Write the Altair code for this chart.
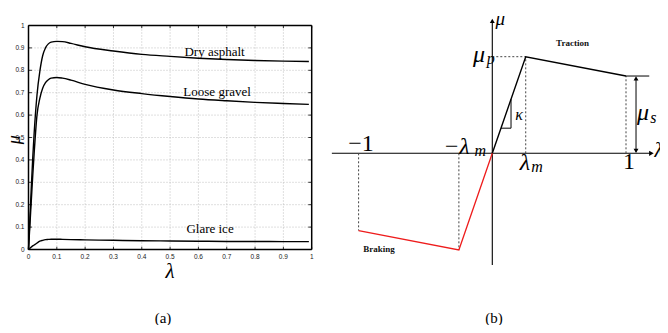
import altair as alt
import pandas as pd

# ---------------- data: panel (a) ----------------
lam_a = [0, 0.005, 0.01, 0.015, 0.02, 0.03, 0.04, 0.05, 0.06, 0.07, 0.08, 0.1,
         0.12, 0.15, 0.2, 0.3, 0.4, 0.5, 0.6, 0.7, 0.8, 0.9, 0.99]
dry_asphalt = [0, 0.14, 0.28, 0.41, 0.52, 0.69, 0.795, 0.865, 0.90, 0.918, 0.926, 0.929,
               0.928, 0.92, 0.905, 0.886, 0.871, 0.862, 0.854, 0.848, 0.844, 0.841, 0.839]
loose_gravel = [0, 0.11, 0.22, 0.33, 0.43, 0.60, 0.675, 0.72, 0.745, 0.758, 0.765, 0.768,
                0.765, 0.756, 0.737, 0.712, 0.696, 0.683, 0.672, 0.664, 0.657, 0.652, 0.648]
glare_ice = [0, 0.006, 0.011, 0.016, 0.02, 0.029, 0.037, 0.041, 0.044, 0.045, 0.046, 0.046,
             0.045, 0.044, 0.043, 0.041, 0.039, 0.038, 0.037, 0.036, 0.036, 0.035, 0.035]
surface_names = ["Dry asphalt", "Loose gravel", "Glare ice"]
ticks_a = [0, 0.1, 0.2, 0.3, 0.4, 0.5, 0.6, 0.7, 0.8, 0.9, 1]
tick_labels_a = ["0", "0.1", "0.2", "0.3", "0.4", "0.5", "0.6", "0.7", "0.8", "0.9", "1"]

# ---------------- data: panel (b) ----------------
lam_m = 0.25
mu_p = 1.0
mu_s = 0.8
traction_lam = [0, lam_m, 1]
traction_mu = [0, mu_p, mu_s]
braking_lam = [0, -lam_m, -1]
braking_mu = [0, -mu_p, -mu_s]

# ---------------- scales (pixel ranges inside the 652x317 view) ----------------
def XA(f):
    return alt.X(f, type="quantitative", axis=None,
                 scale=alt.Scale(domain=[0, 1], range=[20.5, 303.7], nice=False, zero=False))

def YA(f):
    return alt.Y(f, type="quantitative", axis=None,
                 scale=alt.Scale(domain=[0, 1], range=[241.5, 17.5], nice=False, zero=False))

def XB(f):
    return alt.X(f, type="quantitative", axis=None,
                 scale=alt.Scale(domain=[-1.2, 1.3], range=[323.86, 658.11], nice=False, zero=False))

def YB(f):
    return alt.Y(f, type="quantitative", axis=None,
                 scale=alt.Scale(domain=[-1.2, 1.5], range=[261.22, 0.4], nice=False, zero=False))

layers = []

# ---- panel (a): grid ----
grid_vals = ticks_a[1:-1]
gv = pd.DataFrame({"x": grid_vals, "y": 0.0, "y2": 1.0})
gh = pd.DataFrame({"y": grid_vals, "x": 0.0, "x2": 1.0})
layers.append(alt.Chart(gv).mark_rule(color="#b0b0b0", strokeDash=[1, 2], strokeWidth=0.8)
              .encode(x=XA("x"), y=YA("y"), y2="y2"))
layers.append(alt.Chart(gh).mark_rule(color="#b0b0b0", strokeDash=[1, 2], strokeWidth=0.8)
              .encode(y=YA("y"), x=XA("x"), x2="x2"))

# ---- panel (a): ticks (inward) ----
tl = 0.012
tick_rows = []
for t in ticks_a:
    tick_rows += [(t, 0, t, tl), (t, 1, t, 1 - tl), (0, t, tl, t), (1, t, 1 - tl, t)]
tk = pd.DataFrame(tick_rows, columns=["x", "y", "x2", "y2"])
layers.append(alt.Chart(tk).mark_rule(color="black", strokeWidth=0.8)
              .encode(x=XA("x"), y=YA("y"), x2="x2", y2="y2"))

# ---- panel (a): curves ----
curves = pd.DataFrame({
    "lam": lam_a * 3,
    "mu": dry_asphalt + loose_gravel + glare_ice,
    "surface": [surface_names[0]] * len(lam_a) + [surface_names[1]] * len(lam_a)
               + [surface_names[2]] * len(lam_a),
})
layers.append(alt.Chart(curves).mark_line(color="black", strokeWidth=1.4, interpolate="monotone")
              .encode(x=XA("lam"), y=YA("mu"), detail="surface:N"))

# ---- panel (a): frame ----
frame = pd.DataFrame([(0, 0, 1, 0), (0, 1, 1, 1), (0, 0, 0, 1), (1, 0, 1, 1)],
                     columns=["x", "y", "x2", "y2"])
layers.append(alt.Chart(frame).mark_rule(color="black", strokeWidth=1.5)
              .encode(x=XA("x"), y=YA("y"), x2="x2", y2="y2"))

# ---- panel (a): tick labels ----
xl = pd.DataFrame({"x": ticks_a, "y": 0.0, "t": tick_labels_a})
yl = pd.DataFrame({"y": ticks_a, "x": 0.0, "t": tick_labels_a})
layers.append(alt.Chart(xl).mark_text(font="Liberation Sans", fontSize=6.5, baseline="top", dy=4,
                                      color="#222")
              .encode(x=XA("x"), y=YA("y"), text="t:N"))
layers.append(alt.Chart(yl).mark_text(font="Liberation Sans", fontSize=6.5, align="right", dx=-4,
                                      baseline="middle", color="#222")
              .encode(x=XA("x"), y=YA("y"), text="t:N"))

# ---- panel (a): curve labels ----
lab_a = pd.DataFrame({"x": [0.657, 0.666, 0.641], "y": [0.883, 0.702, 0.093], "t": surface_names})
layers.append(alt.Chart(lab_a).mark_text(font="Liberation Serif", fontSize=13, color="black")
              .encode(x=XA("x"), y=YA("y"), text="t:N"))

# ---- panel (a): axis titles ----
ax_x = pd.DataFrame({"x": [0.5], "y": [0.0], "t": ["λ"]})
layers.append(alt.Chart(ax_x).mark_text(font="Liberation Serif", fontSize=21, fontStyle="italic",
                                        baseline="middle", dy=22, color="black")
              .encode(x=XA("x"), y=YA("y"), text="t:N"))
ax_y = pd.DataFrame({"x": [-0.048], "y": [0.49], "t": ["μ"]})
layers.append(alt.Chart(ax_y).mark_text(font="Liberation Serif", fontSize=18, fontStyle="italic",
                                        angle=270, baseline="middle", color="black")
              .encode(x=XA("x"), y=YA("y"), text="t:N"))

# ---- captions ----
cap_a = pd.DataFrame({"x": [0.475], "y": [-0.306], "t": ["(a)"]})
layers.append(alt.Chart(cap_a).mark_text(font="Liberation Serif", fontSize=15, color="black")
              .encode(x=XA("x"), y=YA("y"), text="t:N"))
cap_b = pd.DataFrame({"x": [0.013], "y": [-1.705], "t": ["(b)"]})
layers.append(alt.Chart(cap_b).mark_text(font="Liberation Serif", fontSize=15, color="black")
              .encode(x=XB("x"), y=YB("y"), text="t:N"))

# ---- panel (b): axes ----
axes_b = pd.DataFrame([(-1.2, 0, 1.19, 0), (0, -1.156, 0, 1.37)], columns=["x", "y", "x2", "y2"])
layers.append(alt.Chart(axes_b).mark_rule(color="black", strokeWidth=1.1)
              .encode(x=XB("x"), y=YB("y"), x2="x2", y2="y2"))
arr_r = pd.DataFrame({"x": [1.19], "y": [0.0]})
layers.append(alt.Chart(arr_r).mark_point(shape="triangle-right", filled=True, size=28,
                                          color="black", opacity=1)
              .encode(x=XB("x"), y=YB("y")))
arr_u = pd.DataFrame({"x": [0.0, 1.075], "y": [1.37, 0.775]})
layers.append(alt.Chart(arr_u).mark_point(shape="triangle-up", filled=True, size=24,
                                          color="black", opacity=1)
              .encode(x=XB("x"), y=YB("y")))
arr_d = pd.DataFrame({"x": [1.075], "y": [0.025]})
layers.append(alt.Chart(arr_d).mark_point(shape="triangle-down", filled=True, size=24,
                                          color="black", opacity=1)
              .encode(x=XB("x"), y=YB("y")))

# ---- panel (b): dashed guides ----
dash_b = pd.DataFrame([(0, mu_p, lam_m, mu_p), (lam_m, 0, lam_m, mu_p), (1, 0, 1, mu_s),
                       (-1, 0, -1, -mu_s), (-lam_m, 0, -lam_m, -mu_p)],
                      columns=["x", "y", "x2", "y2"])
layers.append(alt.Chart(dash_b).mark_rule(color="#444444", strokeDash=[2, 2], strokeWidth=1)
              .encode(x=XB("x"), y=YB("y"), x2="x2", y2="y2"))

# ---- panel (b): mu_s marker and double arrow ----
solid_b = pd.DataFrame([(1, mu_s, 1.174, mu_s), (1.075, 0.02, 1.075, 0.78)],
                       columns=["x", "y", "x2", "y2"])
layers.append(alt.Chart(solid_b).mark_rule(color="black", strokeWidth=1)
              .encode(x=XB("x"), y=YB("y"), x2="x2", y2="y2"))

# ---- panel (b): slope triangle ----
tri = pd.DataFrame({"x": [0.065, 0.14, 0.14], "y": [0.26, 0.26, 0.56], "o": [0, 1, 2]})
layers.append(alt.Chart(tri).mark_line(color="black", strokeWidth=1)
              .encode(x=XB("x"), y=YB("y"), order="o:Q"))

# ---- panel (b): characteristic ----
trac = pd.DataFrame({"x": traction_lam, "y": traction_mu, "o": [0, 1, 2]})
layers.append(alt.Chart(trac).mark_line(color="black", strokeWidth=1.4)
              .encode(x=XB("x"), y=YB("y"), order="o:Q"))
brak = pd.DataFrame({"x": braking_lam, "y": braking_mu, "o": [0, 1, 2]})
layers.append(alt.Chart(brak).mark_line(color="#ee1c1c", strokeWidth=1.3)
              .encode(x=XB("x"), y=YB("y"), order="o:Q"))

# ---- panel (b): math labels ----
big_italic = pd.DataFrame({
    "x": [-0.10, 1.127, -0.268, 0.245],
    "y": [1.02, 0.42, 0.07, -0.10],
    "t": ["μ", "μ", "−λ", "λ"],
})
layers.append(alt.Chart(big_italic).mark_text(font="Liberation Serif", fontSize=24,
                                              fontStyle="italic", color="black")
              .encode(x=XB("x"), y=YB("y"), text="t:N"))
edge_lam = pd.DataFrame({"x": [1.245], "y": [0.02], "t": ["λ"]})
layers.append(alt.Chart(edge_lam).mark_text(font="Liberation Serif", fontSize=20,
                                            fontStyle="italic", color="black")
              .encode(x=XB("x"), y=YB("y"), text="t:N"))
top_mu = pd.DataFrame({"x": [0.06], "y": [1.39], "t": ["μ"]})
layers.append(alt.Chart(top_mu).mark_text(font="Liberation Serif", fontSize=19,
                                          fontStyle="italic", color="black")
              .encode(x=XB("x"), y=YB("y"), text="t:N"))
big_upright = pd.DataFrame({"x": [-0.982, 1.022], "y": [0.095, -0.09], "t": ["−1", "1"]})
layers.append(alt.Chart(big_upright).mark_text(font="Liberation Serif", fontSize=24, color="black")
              .encode(x=XB("x"), y=YB("y"), text="t:N"))
subs = pd.DataFrame({
    "x": [-0.012, 1.205, -0.09, 0.335],
    "y": [0.975, 0.37, 0.025, -0.14],
    "t": ["p", "s", "m", "m"],
})
layers.append(alt.Chart(subs).mark_text(font="Liberation Serif", fontSize=16, fontStyle="italic",
                                        color="black")
              .encode(x=XB("x"), y=YB("y"), text="t:N"))
kap = pd.DataFrame({"x": [0.2], "y": [0.40], "t": ["κ"]})
layers.append(alt.Chart(kap).mark_text(font="Liberation Serif", fontSize=16, fontStyle="italic",
                                       color="black")
              .encode(x=XB("x"), y=YB("y"), text="t:N"))
words = pd.DataFrame({"x": [0.6, -0.847], "y": [1.145, -0.99], "t": ["Traction", "Braking"]})
layers.append(alt.Chart(words).mark_text(font="Liberation Serif", fontSize=9, fontWeight="bold",
                                         color="#111")
              .encode(x=XB("x"), y=YB("y"), text="t:N"))

chart = (alt.layer(*layers)
         .resolve_scale(x="independent", y="independent")
         .properties(width=652, height=317, padding=0,
                     autosize=alt.AutoSizeParams(type="none"))
         .configure_view(strokeOpacity=0))

chart.save("out.html", embed_options={"renderer": "svg", "actions": False})
